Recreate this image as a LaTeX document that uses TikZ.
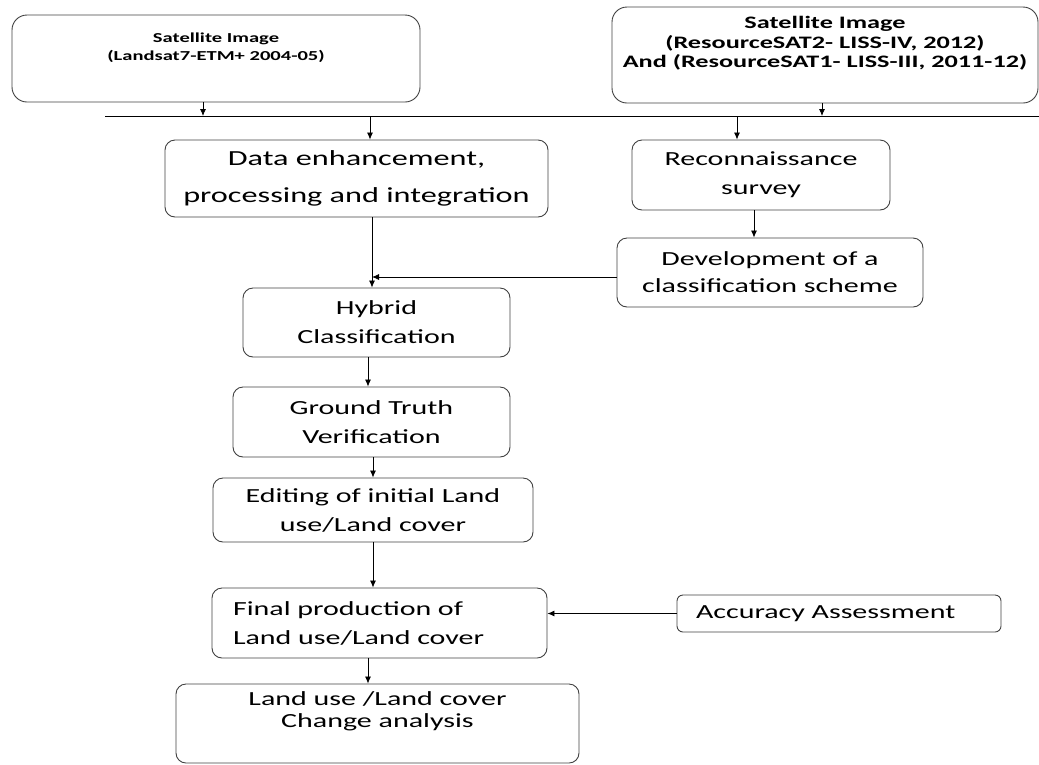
\documentclass[tikz,border=0pt]{standalone}
\usepackage{fontspec}
\setmainfont{Carlito}[FakeStretch=1.5]
\usetikzlibrary{arrows.meta}

\begin{document}
\begin{tikzpicture}[x=1pt,y=-1pt,>={Latex[length=7pt,width=6pt]},
  box/.style={draw=black!75,line width=0.9pt,rounded corners=10pt,align=center,
    inner xsep=2pt,inner ysep=2pt,font=\fontsize{20}{29}\selectfont},
  srcbox/.style={box,rounded corners=15pt},
  link/.style={->,line width=0.8pt}]
\useasboundingbox (0,0) rectangle (1039,764);

\node(sat1) at (216,58.5) [srcbox,minimum width=408pt,minimum height=87pt,font=\bfseries\fontsize{13.7}{18}\selectfont]{Satellite Image\\(Landsat7-ETM+ 2004-05)\\\strut};
\node(sat2) at (825,55) [srcbox,minimum width=426pt,minimum height=96pt,font=\bfseries\fontsize{17.5}{19.5}\selectfont]{Satellite Image\\(ResourceSAT2- LISS-IV, 2012)\\And (ResourceSAT1- LISS-III, 2011-12)\\\strut};
\coordinate(busL) at (105,116);
\coordinate(busR) at (1039,116);

\node(data) at (356.5,178.5) [box,minimum width=383pt,minimum height=77pt,font=\fontsize{21.5}{37}\selectfont]{Data enhancement,\\processing and integration};
\node(recon) at (761,175) [box,minimum width=258pt,minimum height=70pt]{Reconnaissance\\survey};
\node(dev) at (770,272.5) [box,minimum width=306pt,minimum height=69pt,font=\fontsize{20}{27}\selectfont]{Development of a\\classification scheme};
\node(hybrid) at (376.5,322.5) [box,minimum width=267pt,minimum height=69pt]{Hybrid\\Classification};
\node(truth) at (371.5,422) [box,minimum width=277pt,minimum height=70pt]{Ground Truth\\Verification};
\node(edit) at (373,510) [box,minimum width=320pt,minimum height=64pt]{Editing of initial Land\\use/Land cover};
\node(final) at (379.5,623) [box,minimum width=335pt,minimum height=70pt,text width=293pt,align=left]{Final production of\\Land use/Land cover};
\node(acc) at (839,613.5) [box,rounded corners=6pt,minimum width=324pt,minimum height=37pt,text width=286pt,align=left]{Accuracy Assessment};
\node(change) at (377.5,723.5) [box,minimum width=403pt,minimum height=79pt,font=\fontsize{20}{22}\selectfont]{Land use /Land cover\\Change analysis\\\strut};

% input images onto the common line
\draw[line width=0.8pt] (busL) -- (busR);
\draw[link] (sat1.south -| 203,0) -- (busL -| 203,0);
\draw[link] (sat2.south -| 822,0) -- (busL -| 822,0);
\draw[link] (busL -| 370,0) -- (data.north -| 370,0);
\draw[link] (busL -| 737,0) -- (recon.north -| 737,0);

\draw[link] (recon.south -| 754,0) -- (dev.north -| 754,0);
\draw[link] (data.south -| 372,0) -- (hybrid.north -| 372,0);
\draw[link] (dev.west |- 0,277) -- (372,277);

\draw[link] (hybrid.south -| 368,0) -- (truth.north -| 368,0);
\draw[link] (truth.south -| 373,0) -- (edit.north -| 373,0);
\draw[link] (edit.south -| 373,0) -- (final.north -| 373,0);
\draw[link] (acc.west) -- (acc.west -| final.east);
\draw[link] (final.south -| 368,0) -- (change.north -| 368,0);

\end{tikzpicture}
\end{document}
